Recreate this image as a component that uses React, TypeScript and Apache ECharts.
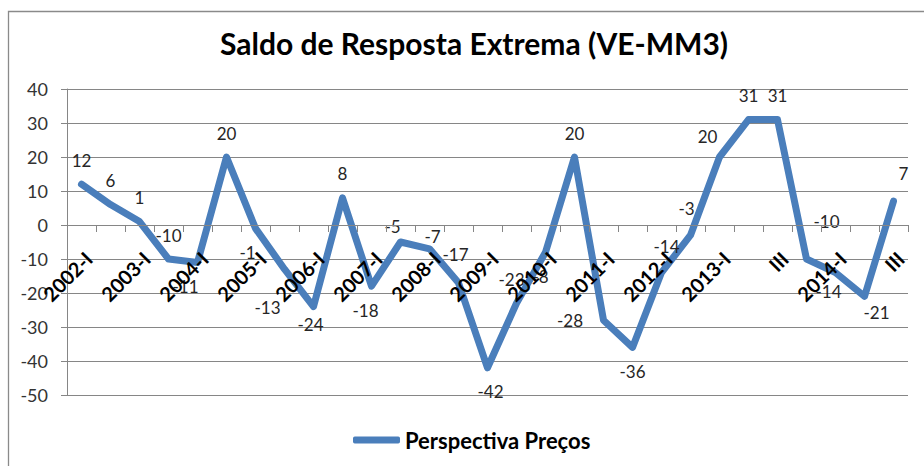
import React, { useEffect, useRef } from "react";
import * as echarts from "echarts";

const titleText = "Saldo de Resposta Extrema (VE-MM3)";
const seriesName = "Perspectiva Preços";

const categories = [
  "2002-I", "II", "2003-I", "II", "2004-I", "II", "2005-I", "II",
  "2006-I", "II", "2007-I", "II", "2008-I", "II", "2009-I", "II",
  "2010-I", "II", "2011-I", "II", "2012-I", "II",
  "2013-I", "II", "III", "IV", "2014-I", "II", "III",
];

const values = [
  12, 6, 1, -10, -11, 20, -1, -13, -24, 8, -18, -5, -7, -17, -42, -23,
  -8, 20, -28, -36, -14, -3, 20, 31, 31, -10, -14, -21, 7,
];

const yTicks = { min: -50, max: 40, interval: 10 };

// label styling (placement and nudges), separate from the data
const labelPlacement = [
  "top", "top", "top", "top", "bottom", "top", "bottom", "bottom", "bottom", "top",
  "bottom", "top", "top", "top", "bottom", "top", "bottom", "top", "left", "bottom",
  "top", "top", "top", "top", "top", "top", "bottom", "bottom", "top",
];
const labelShift: [number, number][] = [
  [0, 0], [0, 0], [0, 0], [0, 0], [-12, 0], [0, 0], [-8, 0], [-17, 14], [-3, -6], [0, 0],
  [-6, 0], [-8, 8], [3, 12], [-3, -4], [3, 0], [-5, 0], [-5, 0], [0, 0], [-5, 0], [0, 0],
  [5, -2], [-4, -3], [-12, 3], [0, 0], [0, 0], [20, -14], [-7, -5], [12, -8], [10, -4],
];

const FONT = "Lato, 'Open Sans', sans-serif";
const GRID = { left: 67, right: 16, top: 89, bottom: 71 };
const CHART_H = 466;

export default function App() {
  const ref = useRef<HTMLDivElement>(null);

  useEffect(() => {
    document.body.style.margin = "0";
    if (!ref.current) return;
    const chart = echarts.init(ref.current, null, { renderer: "svg" });

    const data = values.map((v, i) => ({
      value: v,
      label: {
        show: true,
        position: labelPlacement[i] as any,
        offset: labelShift[i],
      },
    }));

    // place the category axis at the zero line (labels included)
    const gridH = CHART_H - GRID.top - GRID.bottom;
    const zeroFromBottom = (gridH * (0 - yTicks.min)) / (yTicks.max - yTicks.min);

    chart.setOption({
      animation: false,
      backgroundColor: "#ffffff",
      textStyle: { fontFamily: FONT },
      title: {
        text: titleText,
        left: 469,
        top: 23,
        textAlign: "center",
        textStyle: {
          fontFamily: FONT,
          fontSize: 30,
          fontWeight: "bold",
          color: "#000000",
        },
      },
      legend: {
        data: [seriesName],
        left: 348,
        top: 424,
        icon: "roundRect",
        itemWidth: 47,
        itemHeight: 7,
        textStyle: {
          fontFamily: FONT,
          fontSize: 22,
          fontWeight: "bold",
          color: "#000000",
        },
      },
      graphic: [
        {
          type: "rect",
          silent: true,
          z: -10,
          shape: { x: 8.5, y: 11.5, width: 940, height: 500 },
          style: { fill: "none", stroke: "#8a8a8a", lineWidth: 1.3 },
        },
      ],
      grid: { ...GRID, containLabel: false },
      xAxis: {
        type: "category",
        data: categories,
        boundaryGap: true,
        z: 5,
        offset: -zeroFromBottom,
        axisLine: { show: true, onZero: false, lineStyle: { color: "#868686", width: 1 } },
        axisTick: { show: true, interval: 0, length: 7, lineStyle: { color: "#868686" } },
        axisLabel: {
          interval: 1,
          rotate: 45,
          margin: 23,
          verticalAlign: "top",
          fontFamily: FONT,
          fontSize: 20,
          fontWeight: "bold",
          color: "#000000",
        },
        splitLine: { show: false },
      },
      yAxis: {
        type: "value",
        min: yTicks.min,
        max: yTicks.max,
        interval: yTicks.interval,
        axisLine: { show: true, lineStyle: { color: "#868686", width: 1 } },
        axisTick: { show: true, length: 6, lineStyle: { color: "#868686" } },
        axisLabel: {
          margin: 19,
          fontFamily: FONT,
          fontSize: 18,
          color: "#333333",
        },
        splitLine: { show: true, lineStyle: { color: "#868686", width: 1 } },
      },
      series: [
        {
          name: seriesName,
          type: "line",
          data,
          symbol: "circle",
          symbolSize: 1,
          showSymbol: true,
          smooth: false,
          z: 2,
          color: "#4A7EBB",
          itemStyle: { color: "#4A7EBB" },
          lineStyle: { color: "#4A7EBB", width: 7, cap: "round", join: "round" },
          label: {
            show: true,
            distance: 15,
            fontFamily: FONT,
            fontSize: 17,
            color: "#262626",
          },
        },
      ],
    });

    return () => chart.dispose();
  }, []);

  return <div ref={ref} style={{ width: 924, height: 466 }} />;
}
